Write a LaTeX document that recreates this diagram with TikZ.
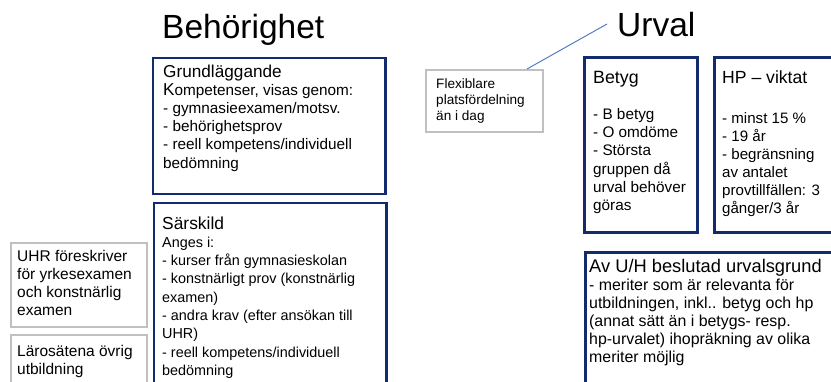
\documentclass[tikz,border=0pt]{standalone}
\usepackage{fontspec}
\setmainfont{Liberation Sans}
\usetikzlibrary{calc}
\definecolor{navy}{RGB}{18,42,110}
\definecolor{boxgray}{RGB}{192,192,192}
\definecolor{connblue}{RGB}{68,114,196}
\newcommand{\fs}[2]{\fontsize{#1}{#2}\selectfont}
\newcommand{\lines}[1]{\begin{tabular}[t]{@{}l@{}}#1\end{tabular}}
\begin{document}
\begin{tikzpicture}[x=1pt,y=-1pt,
  navybox/.style={draw=navy,line width=2.5pt,anchor=north west,inner sep=0pt},
  graybox/.style={draw=boxgray,line width=2pt,anchor=north west,inner sep=0pt},
  txt/.style={anchor=base west,inner sep=0pt,text=black},
  heading/.style={anchor=base west,inner sep=0pt,font=\fs{33.5}{40}},
  conn/.style={draw=connblue,line width=0.9pt}]
\path[use as bounding box,fill=white] (0,0) rectangle (831,381);
\begin{scope}
\clip (0,0) rectangle (831,381);
% headings
\node[heading] (behor) at (162,38) {Behörighet};
\node[heading] (urval) at (617,36) {Urval};
% boxes
\node[navybox,minimum width=232.5pt,minimum height=136pt] (grund) at (151.5,56.5) {};
\node[navybox,minimum width=232.5pt,minimum height=220pt] (sars) at (152.5,201.5) {};
\node[graybox,minimum width=136pt,minimum height=84pt] (uhr) at (10,242) {};
\node[graybox,minimum width=136pt,minimum height=80pt] (laro) at (10,334) {};
\node[graybox,minimum width=117pt,minimum height=62pt] (flex) at (425,69) {};
\node[navybox,minimum width=113pt,minimum height=175pt] (betyg) at (583,56) {};
\node[navybox,minimum width=160pt,minimum height=175pt] (hp) at (713,56) {};
\node[navybox,minimum width=280pt,minimum height=160pt] (avuh) at (584,251) {};
% connector
\coordinate (urvaltip) at (607,24);
\draw[conn] ($(flex.north west)+(102,0)$) -- (urvaltip);
% texts
\node[txt,font=\fs{15.3}{18.2}] (grundT) at (163,77) {\lines{%
{\fs{17.2}{18.2}Grundläggande}\\
{\fs{17.2}{18.2}K}ompetenser, visas genom:\\
- gymnasieexamen/motsv.\\
- behörighetsprov\\
- reell kompetens/individuell\\
bedömning}};
\node[txt,font=\fs{14.4}{18.3}] (sarsT) at (162,229) {\lines{%
{\fs{17.4}{18.3}Särskild}\\
Anges i:\\
- kurser från gymnasieskolan\\
- konstnärligt prov (konstnärlig\\
examen)\\
- andra krav (efter ansökan till\\
UHR)\\
- reell kompetens/individuell\\
bedömning}};
\node[txt,font=\fs{15.5}{18.3}] (uhrT) at (17,261) {\lines{%
UHR föreskriver\\
för yrkesexamen\\
och konstnärlig\\
examen}};
\node[txt,font=\fs{15.5}{18.3}] (laroT) at (17,356) {\lines{%
Lärosätena övrig\\
utbildning}};
\node[txt,font=\fs{13.6}{16}] (flexT) at (436,88) {\lines{%
Flexiblare\\
platsfördelning\\
än i dag}};
\node[txt,font=\fs{15.3}{18.2}] (betygT) at (593,83) {\lines{%
{\fs{17.8}{18.2}Betyg}\\
\\
- B betyg\\
- O omdöme\\
- Största\\
gruppen då\\
urval behöver\\
göras}};
\node[txt,font=\fs{15.1}{18.1}] (hpT) at (722,83) {\lines{%
{\fs{17.6}{18.1}HP – viktat}\\
\\[4pt]
- minst 15 \%\\
- 19 år\\
- begränsning\\
av antalet\\
provtillfällen: 3\\
gånger/3 år}};
\node[txt,font=\fs{15.9}{18.1}] (avuhT) at (589,272) {\lines{%
{\fs{18.3}{18.1}Av U/H beslutad urvalsgrund}\\
- meriter som är relevanta för\\
utbildningen, inkl.. betyg och hp\\
(annat sätt än i betygs- resp.\\
hp-urvalet) ihopräkning av olika\\
meriter möjlig}};
\end{scope}
\end{tikzpicture}
\end{document}
